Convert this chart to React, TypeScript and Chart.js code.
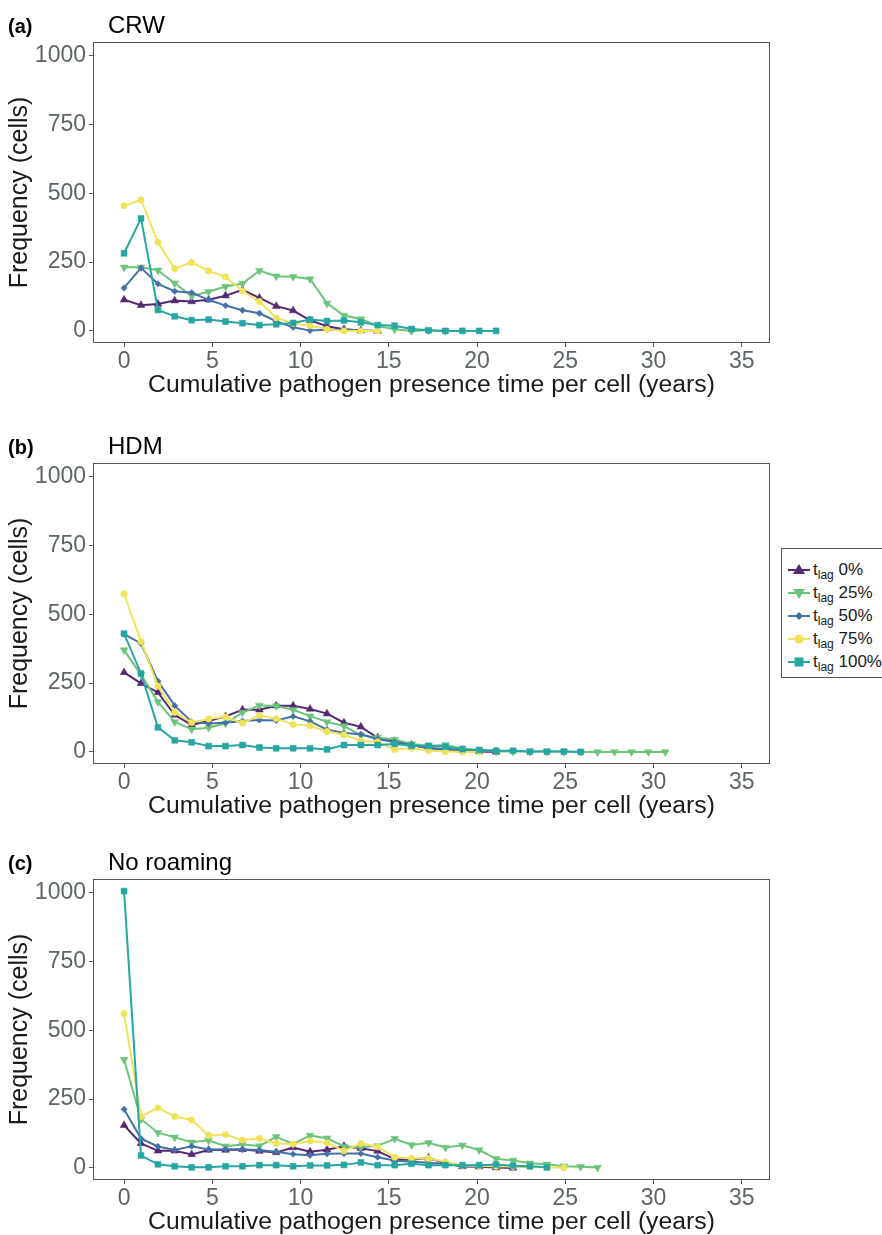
import React, { useEffect, useRef } from "react";
import { Chart, registerables } from "chart.js";

Chart.register(...registerables);

// Bin positions (years) of the cumulative-presence histogram
const binYears = [
  0, 0.96, 1.92, 2.87, 3.83, 4.79, 5.75, 6.71, 7.67, 8.62, 9.58, 10.54, 11.5,
  12.46, 13.42, 14.37, 15.33, 16.29, 17.25, 18.21, 19.17, 20.12, 21.08, 22.04,
  23.0, 23.96, 24.92, 25.87, 26.83, 27.79, 28.75, 29.71, 30.67,
];

const xTicks = [0, 5, 10, 15, 20, 25, 30, 35];
const yTicks = [0, 250, 500, 750, 1000];

const seriesLabels = ["0%", "25%", "50%", "75%", "100%"];

// (a) CRW
const crwLag0 = [113, 93, 98, 110, 107, 113, 128, 149, 120, 90, 74, 38, 17, 6, 1, 0];
const crwLag25 = [231, 231, 220, 173, 127, 142, 161, 172, 219, 199, 197, 189, 100, 56, 43, 18, 6, 0, 2, 0];
const crwLag50 = [156, 229, 171, 144, 139, 113, 92, 75, 64, 35, 13, 1, 4, 5, 1, 0];
const crwLag75 = [455, 476, 322, 226, 249, 218, 196, 145, 107, 47, 27, 19, 6, 0, 0, 0];
const crwLag100 = [282, 409, 76, 53, 39, 41, 34, 28, 21, 24, 29, 41, 36, 38, 31, 21, 19, 7, 2, 0, 0, 0, 0];

// (b) HDM
const hdmLag0 = [289, 249, 216, 134, 98, 112, 129, 153, 153, 168, 168, 156, 139, 106, 91, 51, 39, 25, 13, 10, 7, 1, 0];
const hdmLag25 = [370, 281, 182, 109, 82, 88, 104, 143, 169, 167, 153, 130, 109, 94, 60, 52, 45, 29, 22, 25, 12, 5, 1, 1, 1, 1, 1, 0, 0, 0, 0, 0, 0];
const hdmLag50 = [428, 394, 257, 168, 110, 103, 106, 112, 116, 114, 129, 111, 81, 69, 64, 46, 36, 25, 13, 10, 7, 5, 4];
const hdmLag75 = [574, 402, 239, 143, 107, 120, 127, 105, 132, 121, 100, 95, 74, 62, 40, 36, 9, 13, 5, 1, 0, 0];
const hdmLag100 = [430, 285, 89, 42, 35, 21, 21, 25, 16, 13, 13, 13, 9, 25, 25, 25, 29, 22, 22, 19, 10, 7, 4, 4, 1, 1, 1, 0];

// (c) No roaming
const noRoamLag0 = [155, 89, 62, 62, 49, 65, 65, 67, 61, 56, 74, 59, 66, 79, 71, 61, 32, 30, 36, 17, 5, 4, 1, 0];
const noRoamLag25 = [394, 177, 128, 111, 93, 100, 79, 85, 80, 113, 87, 118, 108, 78, 75, 80, 106, 83, 91, 74, 82, 65, 33, 27, 17, 13, 6, 4, 1];
const noRoamLag50 = [213, 106, 78, 65, 79, 67, 68, 67, 65, 59, 50, 46, 51, 52, 52, 39, 27, 22, 19, 14, 9, 8, 6, 5, 4];
const noRoamLag75 = [561, 187, 218, 187, 174, 118, 121, 101, 107, 89, 87, 98, 91, 62, 89, 77, 39, 34, 34, 22, 9, 7, 6, 5, 4, 1, 1];
const noRoamLag100 = [1006, 45, 13, 6, 2, 2, 6, 6, 10, 10, 6, 9, 9, 11, 20, 10, 10, 15, 10, 10, 10, 10, 12, 8, 6, 2];

const panelTitles = ["CRW", "HDM", "No roaming"];
const panelTags = ["(a)", "(b)", "(c)"];
const panelData = [
  [crwLag0, crwLag25, crwLag50, crwLag75, crwLag100],
  [hdmLag0, hdmLag25, hdmLag50, hdmLag75, hdmLag100],
  [noRoamLag0, noRoamLag25, noRoamLag50, noRoamLag75, noRoamLag100],
];
const panelTops = [0, 421, 837];

const COLORS = ["#552a73", "#6cc47a", "#4670a8", "#f0e35a", "#27a6a2"];
const STYLES = [
  { pointStyle: "triangle", rotation: 0, radius: 4.5 },
  { pointStyle: "triangle", rotation: 180, radius: 4.5 },
  { pointStyle: "rectRot", rotation: 0, radius: 3.2 },
  { pointStyle: "circle", rotation: 0, radius: 3.2 },
  { pointStyle: "rect", rotation: 0, radius: 4.2 },
];

const FONT = "'Liberation Sans', Arial, Helvetica, sans-serif";
const TICK_COLOR = "#5d6568";
const AXIS_COLOR = "#555555";

const CANVAS_W = 780;
const CANVAS_H = 400;

const boxPlugin = {
  id: "panelBox",
  afterDraw(chart: any) {
    const { ctx, chartArea } = chart;
    ctx.save();
    ctx.strokeStyle = AXIS_COLOR;
    ctx.lineWidth = 1;
    ctx.strokeRect(
      Math.round(chartArea.left) + 0.5,
      Math.round(chartArea.top) + 0.5,
      Math.round(chartArea.right - chartArea.left) - 1,
      Math.round(chartArea.bottom - chartArea.top) - 1
    );
    ctx.restore();
  },
};

function makeConfig(series: number[][]): any {
  return {
    type: "line",
    data: {
      datasets: series.map((vals, k) => ({
        label: "t_lag " + seriesLabels[k],
        data: vals.map((v, i) => ({ x: binYears[i], y: v })),
        borderColor: COLORS[k],
        backgroundColor: COLORS[k],
        pointBackgroundColor: COLORS[k],
        pointBorderColor: COLORS[k],
        pointBorderWidth: 0.5,
        borderWidth: 2,
        pointStyle: STYLES[k].pointStyle,
        pointRotation: STYLES[k].rotation,
        pointRadius: STYLES[k].radius,
        tension: 0,
        fill: false,
        order: 4 - k,
      })),
    },
    options: {
      animation: false,
      responsive: false,
      maintainAspectRatio: false,
      devicePixelRatio: 1,
      layout: { padding: { top: 42, right: 10, left: 0, bottom: 0 } },
      plugins: {
        legend: { display: false },
        tooltip: { enabled: false },
        title: { display: false },
      },
      scales: {
        x: {
          type: "linear",
          min: -1.76,
          max: 36.6,
          afterBuildTicks: (s: any) => {
            s.ticks = xTicks.map((v) => ({ value: v }));
          },
          afterFit: (s: any) => {
            s.height = 57;
          },
          grid: {
            display: true,
            drawOnChartArea: false,
            drawTicks: true,
            tickLength: 4,
            color: AXIS_COLOR,
          },
          border: { display: false },
          ticks: {
            font: { family: FONT, size: 23 },
            color: TICK_COLOR,
            padding: 1,
            maxRotation: 0,
            autoSkip: false,
            callback: (v: any) => String(v),
          },
          title: {
            display: true,
            text: "Cumulative pathogen presence time per cell (years)",
            font: { family: FONT, size: 24.75 },
            color: "#1a1a1a",
            padding: { top: 0, bottom: 0 },
          },
        },
        y: {
          type: "linear",
          min: -44,
          max: 1050,
          afterBuildTicks: (s: any) => {
            s.ticks = yTicks.map((v) => ({ value: v }));
          },
          afterFit: (s: any) => {
            s.width = 93;
          },
          grid: {
            display: true,
            drawOnChartArea: false,
            drawTicks: true,
            tickLength: 4,
            color: AXIS_COLOR,
          },
          border: { display: false },
          ticks: {
            font: { family: FONT, size: 23 },
            color: TICK_COLOR,
            padding: 3,
            autoSkip: false,
            callback: (v: any) => String(v),
          },
          title: {
            display: true,
            text: "Frequency (cells)",
            font: { family: FONT, size: 25 },
            color: "#1a1a1a",
            padding: { top: 5, bottom: 0 },
          },
        },
      },
    },
    plugins: [boxPlugin],
  };
}

function Panel({ index }: { index: number }) {
  const ref = useRef<HTMLCanvasElement | null>(null);
  useEffect(() => {
    if (!ref.current) return;
    const chart = new Chart(ref.current, makeConfig(panelData[index]));
    return () => chart.destroy();
  }, [index]);
  const top = panelTops[index];
  return (
    <>
      <canvas
        ref={ref}
        width={CANVAS_W}
        height={CANVAS_H}
        style={{ position: "absolute", left: 0, top, width: CANVAS_W, height: CANVAS_H, display: "block" }}
      />
      <div
        style={{
          position: "absolute",
          left: 8,
          top: top + 16,
          fontFamily: FONT,
          fontWeight: "bold",
          fontSize: 20,
          lineHeight: "20px",
          color: "#000",
          whiteSpace: "nowrap",
        }}
      >
        {panelTags[index]}
      </div>
      <div
        style={{
          position: "absolute",
          left: 108,
          top: top + 13,
          fontFamily: FONT,
          fontSize: 24,
          lineHeight: "24px",
          color: "#000",
          whiteSpace: "nowrap",
        }}
      >
        {panelTitles[index]}
      </div>
    </>
  );
}

function Marker({ k }: { k: number }) {
  const c = COLORS[k];
  let shape: React.ReactNode = null;
  const cx = 11;
  const cy = 7;
  if (k === 0) shape = <polygon points={`${cx},${cy - 6} ${cx + 6},${cy + 4} ${cx - 6},${cy + 4}`} fill={c} />;
  if (k === 1) shape = <polygon points={`${cx},${cy + 6} ${cx + 6},${cy - 4} ${cx - 6},${cy - 4}`} fill={c} />;
  if (k === 2) shape = <polygon points={`${cx},${cy - 4} ${cx + 4},${cy} ${cx},${cy + 4} ${cx - 4},${cy}`} fill={c} />;
  if (k === 3) shape = <circle cx={cx} cy={cy} r={4.5} fill={c} />;
  if (k === 4) shape = <rect x={cx - 4.5} y={cy - 4.5} width={9} height={9} fill={c} />;
  return (
    <svg width={22} height={14} style={{ position: "absolute", left: 6, top: 4 }}>
      <line x1={0} y1={cy} x2={22} y2={cy} stroke={c} strokeWidth={2} />
      {shape}
    </svg>
  );
}

function Legend() {
  return (
    <div
      style={{
        position: "absolute",
        left: 781,
        top: 548,
        width: 101,
        height: 130,
        borderTop: "1px solid #555",
        borderLeft: "1px solid #555",
        borderBottom: "1px solid #555",
        boxSizing: "border-box",
        background: "#fff",
        fontFamily: FONT,
        color: "#1a1a1a",
      }}
    >
      {seriesLabels.map((lab, k) => (
        <div key={k} style={{ position: "absolute", left: 0, top: 10 + k * 23, height: 22, width: 100 }}>
          <Marker k={k} />
          <span style={{ position: "absolute", left: 31, top: 0, fontSize: 17, lineHeight: "22px", whiteSpace: "nowrap" }}>
            t<sub style={{ fontSize: 12, verticalAlign: "-4px", lineHeight: "12px" }}>lag</sub> {lab}
          </span>
        </div>
      ))}
    </div>
  );
}

export default function App() {
  return (
    <div
      style={{
        position: "absolute",
        left: 0,
        top: 0,
        width: 882,
        height: 1235,
        overflow: "hidden",
        background: "#fff",
      }}
    >
      <Panel index={0} />
      <Panel index={1} />
      <Panel index={2} />
      <Legend />
    </div>
  );
}
